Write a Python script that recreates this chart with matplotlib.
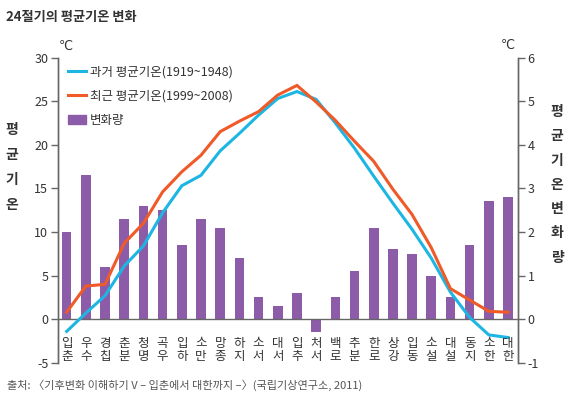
import matplotlib
matplotlib.use("Agg")
import matplotlib.pyplot as plt
from matplotlib.lines import Line2D
from matplotlib.patches import Patch

plt.rcParams['font.family'] = ['Noto Sans CJK KR', 'DejaVu Sans']
plt.rcParams['axes.unicode_minus'] = False

# 24절기
terms = ['입춘', '우수', '경칩', '춘분', '청명', '곡우', '입하', '소만', '망종', '하지', '소서', '대서',
         '입추', '처서', '백로', '추분', '한로', '상강', '입동', '소설', '대설', '동지', '소한', '대한']
# 과거 평균기온 (1919~1948)
past = [-1.4, 0.7, 2.7, 6.1, 8.4, 12.2, 15.3, 16.5, 19.3, 21.3, 23.4, 25.3,
        26.1, 25.2, 22.5, 19.6, 16.4, 13.3, 10.3, 7.0, 3.1, 0.2, -1.8, -2.1]
# 최근 평균기온 (1999~2008)
recent = [0.8, 3.8, 4.0, 8.7, 11.0, 14.6, 16.9, 18.8, 21.5, 22.7, 23.8, 25.7,
          26.8, 24.9, 22.8, 20.4, 18.1, 14.9, 12.0, 8.2, 3.5, 2.2, 0.9, 0.8]
# 변화량
change = [2.0, 3.3, 1.2, 2.3, 2.6, 2.5, 1.7, 2.3, 2.1, 1.4, 0.5, 0.3,
          0.6, -0.3, 0.5, 1.1, 2.1, 1.6, 1.5, 1.0, 0.5, 1.7, 2.7, 2.8]
left_ticks = [-5, 0, 5, 10, 15, 20, 25, 30]
right_ticks = [-1, 0, 1, 2, 3, 4, 5, 6]

BLUE = '#1db6e2'
ORANGE = '#ef5a28'
PURPLE = '#8d5ca8'
TXT = '#333333'
AX = '#666666'

fig = plt.figure(figsize=(5.7, 3.97), dpi=100)
ax = fig.add_axes([0.1018, 0.0861, 0.807, 0.769])
ax2 = ax.twinx()

x = list(range(len(terms)))

# 막대 (오른쪽 축)
ax2.bar(x, change, width=0.5, color=PURPLE, zorder=2)
ax2.set_ylim(-1, 6)
ax2.set_yticks(right_ticks)

# 선 (왼쪽 축) - 막대 위에 그림
ax.set_zorder(ax2.get_zorder() + 1)
ax.patch.set_visible(False)
ax.plot(x, past, color=BLUE, lw=2.2, solid_joinstyle='miter', zorder=3)
ax.plot(x, recent, color=ORANGE, lw=2.2, solid_joinstyle='miter', zorder=4)
ax.axhline(0, color=AX, lw=1, zorder=1)
ax.set_ylim(-5, 30)
ax.set_yticks(left_ticks)
ax.set_xlim(-0.45, 23.52)
ax.set_xticks([])

for a in (ax, ax2):
    for s in ('top', 'bottom'):
        a.spines[s].set_visible(False)
    for s in ('left', 'right'):
        a.spines[s].set_color(AX)
        a.spines[s].set_linewidth(1)
    a.tick_params(axis='y', colors=AX, labelcolor=TXT, labelsize=9, length=5, width=1, pad=2)
ax2.set_xticks([])

# 절기 라벨 (세로 두 글자)
for i, t in enumerate(terms):
    ax.text(i, -2.0, t[0] + '\n' + t[1], ha='center', va='top', fontsize=9,
            color=TXT, linespacing=1.05)

# 단위
fig.text(66 / 570, 1 - 46 / 397, '℃', ha='center', va='center', fontsize=9, color=TXT,
         family=['DejaVu Sans'])
fig.text(508 / 570, 1 - 45 / 397, '℃', ha='center', va='center', fontsize=9, color=TXT,
         family=['DejaVu Sans'])

# 축 제목 (세로 글자)
for k, ch in enumerate('평균기온'):
    fig.text(12 / 570, 1 - (130 + 25 * k) / 397, ch, ha='center', va='center',
             fontsize=10, fontweight='bold', color=TXT)
for k, ch in enumerate('평균기온변화량'):
    fig.text(557 / 570, 1 - (112 + 24.3 * k) / 397, ch, ha='center', va='center',
             fontsize=10, fontweight='bold', color=TXT)

# 범례
handles = [Line2D([], [], color=BLUE, lw=2.2),
           Line2D([], [], color=ORANGE, lw=2.2),
           Patch(color=PURPLE)]
labels = ['과거 평균기온(1919~1948)', '최근 평균기온(1999~2008)', '변화량']
leg = ax.legend(handles, labels, loc='upper left', bbox_to_anchor=(0.01, 0.99),
                frameon=False, fontsize=9, handlelength=1.5, handletextpad=0.3,
                labelspacing=0.9, borderaxespad=0)
for t in leg.get_texts():
    t.set_color(TXT)

# 제목, 출처
fig.text(6 / 570, 1 - 17 / 397, '24절기의 평균기온 변화', ha='left', va='center',
         fontsize=9.5, fontweight='bold', color=TXT)
fig.text(7 / 570, 1 - 385 / 397,
         '출처: 〈기후변화 이해하기 V – 입춘에서 대한까지 –〉(국립기상연구소, 2011)',
         ha='left', va='center', fontsize=8, color='#555555')

fig.savefig('out.png', dpi=100)
